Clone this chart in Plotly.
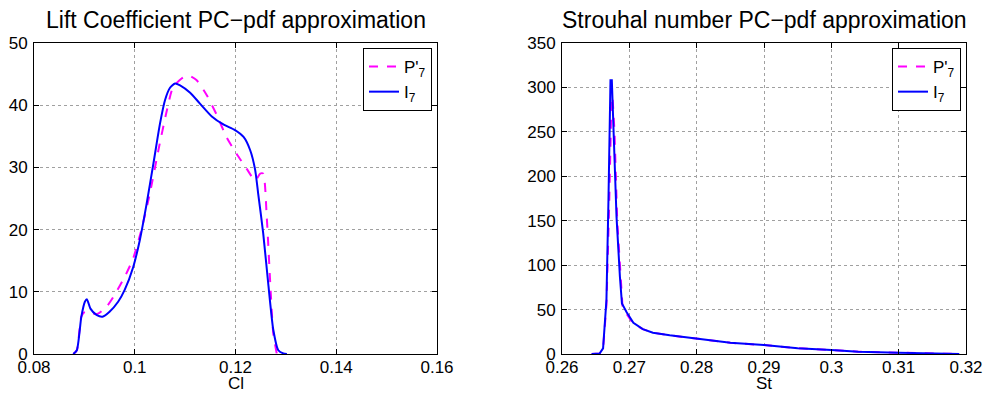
import plotly.graph_objects as go

# Lift coefficient PDF
cl_x_I7 = [0.0878, 0.0885, 0.0894, 0.0901, 0.0905, 0.0912, 0.0924, 0.0936, 0.0950, 0.0967,
           0.0980, 0.0997, 0.1010, 0.1023, 0.1037, 0.1050, 0.1060, 0.1070, 0.1080, 0.1090,
           0.1110, 0.1129, 0.1153, 0.1176, 0.1199, 0.1216, 0.1229, 0.1239, 0.1245, 0.1255,
           0.1265, 0.1275, 0.1285, 0.1295, 0.1302]
cl_y_I7 = [0.0, 0.6, 6.0, 8.4, 8.8, 7.3, 6.3, 6.0, 6.8, 8.4,
           10.3, 14.0, 18.3, 23.9, 30.6, 37.0, 40.8, 42.8, 43.5, 43.2,
           42.0, 40.3, 38.2, 36.9, 36.0, 34.9, 32.8, 29.6, 25.8, 19.4,
           11.3, 3.9, 0.6, 0.1, 0.0]
cl_x_P7 = [0.0878, 0.0885, 0.0894, 0.0901, 0.0911, 0.0927, 0.0944, 0.0960, 0.0980, 0.0997,
           0.1013, 0.1030, 0.1047, 0.1063, 0.1076, 0.1093, 0.1106, 0.1123, 0.1143, 0.1163,
           0.1182, 0.1202, 0.1222, 0.1239, 0.1249, 0.1255, 0.1262, 0.1269, 0.1275, 0.1282]
cl_y_P7 = [0.0, 0.6, 6.0, 6.8, 6.5, 6.5, 7.6, 9.5, 12.4, 15.4,
           19.9, 25.8, 32.8, 38.9, 42.9, 44.3, 44.8, 44.0, 41.6, 38.4,
           34.9, 32.2, 29.8, 27.9, 29.0, 29.0, 22.1, 11.3, 3.3, 0.0]

# Strouhal number PDF
st_x_I7 = [0.2644, 0.2656, 0.2661, 0.2666, 0.2669, 0.2672, 0.2674, 0.2677, 0.2681, 0.2686,
           0.2689, 0.2696, 0.2700, 0.2706, 0.2720, 0.2735, 0.2760, 0.2800, 0.2850, 0.2900,
           0.2950, 0.3000, 0.3040, 0.3100, 0.3140, 0.3190]
st_y_I7 = [0.0, 0.7, 6.4, 60.7, 173, 308, 308, 248, 154, 87,
           57, 47, 42, 35, 28, 24, 21, 17.6, 12.7, 10.0,
           6.4, 4.5, 2.6, 1.5, 0.7, 0.0]
st_x_P7 = [0.2644, 0.2656, 0.2661, 0.2666, 0.2670, 0.2673, 0.2675, 0.2678, 0.2682, 0.2687,
           0.2690, 0.2696, 0.2700, 0.2706, 0.2720, 0.2735, 0.2760, 0.2800, 0.2850, 0.2900,
           0.2950, 0.3000, 0.3040, 0.3100, 0.3140, 0.3190]
st_y_P7 = [0.0, 0.7, 5.5, 55, 165, 270, 290, 250, 150, 80,
           52, 45, 41, 34, 28, 24, 21, 17.6, 12.7, 10.0,
           6.4, 4.5, 2.6, 1.5, 0.7, 0.0]

cl_xticks = [0.08, 0.1, 0.12, 0.14, 0.16]
cl_xlabels = ["0.08", "0.1", "0.12", "0.14", "0.16"]
cl_yticks = [0, 10, 20, 30, 40, 50]
st_xticks = [0.26, 0.27, 0.28, 0.29, 0.3, 0.31, 0.32]
st_xlabels = ["0.26", "0.27", "0.28", "0.29", "0.3", "0.31", "0.32"]
st_yticks = [0, 50, 100, 150, 200, 250, 300, 350]

FONT = "Liberation Sans, Arial, sans-serif"
MAG = "#ff00ff"
BLUE = "#0000ff"

fig = go.Figure()
fig.add_trace(go.Scatter(x=cl_x_P7, y=cl_y_P7, mode="lines", name="P'<sub>7</sub>",
                         line=dict(color=MAG, width=2, dash="dash", shape="spline", smoothing=0.6),
                         xaxis="x", yaxis="y", legend="legend"))
fig.add_trace(go.Scatter(x=cl_x_I7, y=cl_y_I7, mode="lines", name="I<sub>7</sub>",
                         line=dict(color=BLUE, width=2, shape="spline", smoothing=0.6),
                         xaxis="x", yaxis="y", legend="legend"))
fig.add_trace(go.Scatter(x=st_x_P7, y=st_y_P7, mode="lines", name="P'<sub>7</sub>",
                         line=dict(color=MAG, width=2, dash="dash"),
                         xaxis="x2", yaxis="y2", legend="legend2"))
fig.add_trace(go.Scatter(x=st_x_I7, y=st_y_I7, mode="lines", name="I<sub>7</sub>",
                         line=dict(color=BLUE, width=2),
                         xaxis="x2", yaxis="y2", legend="legend2"))

ax_common = dict(showline=True, linecolor="black", linewidth=1, mirror="ticks",
                 ticks="inside", ticklen=5, tickcolor="black", automargin=False,
                 showgrid=True, gridcolor="#a0a0a0", griddash="dot", gridwidth=1,
                 zeroline=False, tickfont=dict(family=FONT, size=17, color="black"))

y0, y1 = 1 - 354 / 394, 1 - 43 / 394
fig.update_layout(
    width=987, height=394, margin=dict(l=0, r=0, t=0, b=0),
    paper_bgcolor="white", plot_bgcolor="white",
    font=dict(family=FONT, color="black"),
    xaxis=dict(domain=[34 / 987, 437 / 987], range=[0.08, 0.16], tickvals=cl_xticks,
               ticktext=cl_xlabels, anchor="y", ticklabelstandoff=-2, **ax_common),
    yaxis=dict(domain=[y0, y1], range=[0, 50], tickvals=cl_yticks, anchor="x",
               ticklabelstandoff=2, **ax_common),
    xaxis2=dict(domain=[562 / 987, 966 / 987], range=[0.26, 0.32], tickvals=st_xticks,
                ticktext=st_xlabels, anchor="y2", ticklabelstandoff=-2, **ax_common),
    yaxis2=dict(domain=[y0, y1], range=[0, 350], tickvals=st_yticks, anchor="x2",
                ticklabelstandoff=2, **ax_common),
    legend=dict(x=432 / 987, y=1 - 48 / 394, xanchor="right", yanchor="top",
                bordercolor="black", borderwidth=1, bgcolor="white",
                font=dict(family=FONT, size=17), itemwidth=30, tracegroupgap=0),
    legend2=dict(x=961 / 987, y=1 - 48 / 394, xanchor="right", yanchor="top",
                 bordercolor="black", borderwidth=1, bgcolor="white",
                 font=dict(family=FONT, size=17), itemwidth=30, tracegroupgap=0),
    annotations=[
        dict(text="Lift Coefficient PC\u2212pdf approximation", x=235.5 / 987, y=1 - 20 / 394,
             xref="paper", yref="paper", showarrow=False, xanchor="center", yanchor="middle",
             font=dict(family=FONT, size=23, color="black")),
        dict(text="Strouhal number PC\u2212pdf approximation", x=764 / 987, y=1 - 20 / 394,
             xref="paper", yref="paper", showarrow=False, xanchor="center", yanchor="middle",
             font=dict(family=FONT, size=23, color="black")),
        dict(text="Cl", x=235.5 / 987, y=0, borderpad=0,
             xref="paper", yref="paper", showarrow=False, xanchor="center", yanchor="bottom",
             font=dict(family=FONT, size=17, color="black")),
        dict(text="St", x=764 / 987, y=0, borderpad=0,
             xref="paper", yref="paper", showarrow=False, xanchor="center", yanchor="bottom",
             font=dict(family=FONT, size=17, color="black")),
    ],
)

fig.write_html("out.html")
